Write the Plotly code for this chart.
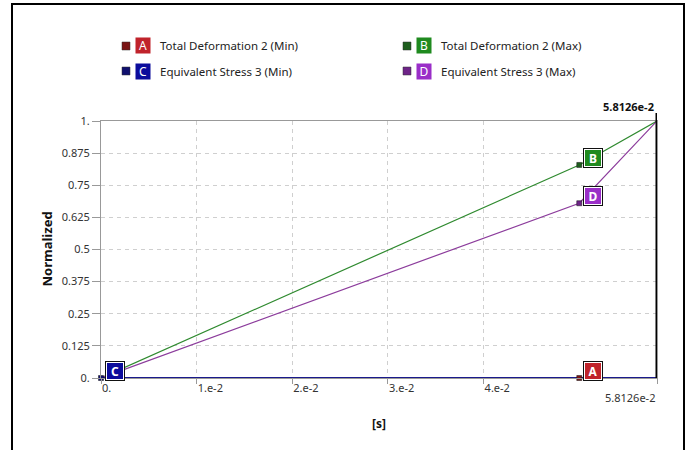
import plotly.graph_objects as go

# ---------------- data ----------------
time_s = [0.0, 0.05, 0.058126]
series_letters = ["A", "B", "C", "D"]
series_names = [
    "Total Deformation 2 (Min)",
    "Total Deformation 2 (Max)",
    "Equivalent Stress 3 (Min)",
    "Equivalent Stress 3 (Max)",
]
total_def_min = [0.0, 0.0, 0.0]
total_def_max = [0.0, 0.829, 1.0]
eq_stress_min = [0.0, 0.0, 0.0]
eq_stress_max = [0.0, 0.68, 1.0]
label_index = [1, 1, 0, 1]          # which sample carries the letter box

y_tick_vals = [0, 0.125, 0.25, 0.375, 0.5, 0.625, 0.75, 0.875, 1.0]
y_tick_text = ["0.", "0.125", "0.25", "0.375", "0.5", "0.625", "0.75", "0.875", "1."]
x_tick_vals = [0.0, 0.01, 0.02, 0.03, 0.04, 0.058126]
x_tick_text = ["0.", "1.e-2", "2.e-2", "3.e-2", "4.e-2", "5.8126e-2"]
cursor_time = 0.058126
x_title = "[s]"
y_title = "Normalized"

# ---------------- styles ----------------
W, H = 688, 450
L, R, T, B = 101, 688 - 657, 121, 450 - 378
PW, PH = W - L - R, H - T - B

def px(xp):
    return (xp - L) / PW

def py(yp):
    return (H - B - yp) / PH

values = [total_def_min, total_def_max, eq_stress_min, eq_stress_max]
line_colors = ["#9b1c1c", "#2f8a2f", "#1a1a8c", "#8c3c9c"]
box_colors = ["#c0232b", "#1f8a1f", "#0c0c9c", "#9a2ec8"]
dark_colors = ["#7a1515", "#1e5e1e", "#10106e", "#6e2488"]
FONT = "Noto Sans"

fig = go.Figure()

draw_order = [1, 3, 0, 2]
for i in draw_order:
    fig.add_trace(go.Scatter(
        x=time_s, y=values[i], mode="lines",
        line=dict(color=line_colors[i], width=1.2 if i in (1, 3) else 2),
        name=series_names[i], showlegend=False, hoverinfo="skip",
    ))

# label point markers
for i in range(4):
    k = label_index[i]
    fig.add_trace(go.Scatter(
        x=[time_s[k]], y=[values[i][k]], mode="markers",
        marker=dict(symbol="square", size=5, color=dark_colors[i],
                    line=dict(color="#111", width=0.5)),
        showlegend=False, hoverinfo="skip", cliponaxis=False,
    ))

annotations = []
shapes = []

# letter boxes on the curves
for i in range(4):
    k = label_index[i]
    annotations.append(dict(
        x=time_s[k], y=values[i][k], xref="x", yref="y",
        xanchor="left", yanchor="bottom", xshift=4, yshift=-3,
        text="", showarrow=False, width=14, height=14,
        bgcolor="#111", bordercolor="#111", borderpad=2, borderwidth=1,
    ))
    annotations.append(dict(
        x=time_s[k], y=values[i][k], xref="x", yref="y",
        xanchor="left", yanchor="bottom", xshift=5, yshift=-2,
        text="<b>%s</b>" % series_letters[i], showarrow=False,
        width=14, height=14, align="center", valign="middle",
        font=dict(family=FONT, size=12, color="white"),
        bgcolor=box_colors[i], bordercolor="white", borderwidth=1, borderpad=1,
    ))

# custom legend (two columns, two rows)
legend_slots = {0: (122, 135, 158, 46), 2: (122, 135, 158, 71),
                1: (403, 416, 439, 46), 3: (403, 416, 439, 71)}
for i in range(4):
    sq, bx, tx, yc = legend_slots[i]
    shapes.append(dict(type="rect", xref="paper", yref="paper",
                       x0=px(sq), x1=px(sq + 8), y0=py(yc + 4), y1=py(yc - 4),
                       fillcolor=dark_colors[i], line=dict(color="#333", width=0.5)))
    annotations.append(dict(
        x=px(bx), y=py(yc), xref="paper", yref="paper",
        xanchor="left", yanchor="middle", text=series_letters[i],
        showarrow=False, width=14, height=15, borderpad=0,
        font=dict(family=FONT, size=12, color="white"), bgcolor=box_colors[i],
    ))
    annotations.append(dict(
        x=px(tx), y=py(yc), xref="paper", yref="paper",
        xanchor="left", yanchor="middle", text=series_names[i],
        showarrow=False, font=dict(family=FONT, size=11.5, color="#222"),
    ))

# cursor line and its label
shapes.append(dict(type="line", xref="x", yref="paper",
                   x0=cursor_time, x1=cursor_time, y0=0, y1=py(113),
                   line=dict(color="black", width=3)))
annotations.append(dict(
    x=cursor_time, y=py(106), xref="x", yref="paper",
    xanchor="right", yanchor="middle", xshift=-1,
    text="<b>%s</b>" % x_tick_text[-1], showarrow=False,
    font=dict(family=FONT, size=11, color="#111"),
))
# last x tick label right aligned to the axis end
annotations.append(dict(
    x=x_tick_vals[-1], y=py(397), xref="x", yref="paper",
    xanchor="right", yanchor="middle", xshift=0,
    text=x_tick_text[-1], showarrow=False,
    font=dict(family=FONT, size=11, color="#333"),
))

# axis titles
annotations.append(dict(
    x=px(46), y=0.5, xref="paper", yref="paper", textangle=-90,
    xanchor="center", yanchor="middle", text="<b>%s</b>" % y_title,
    showarrow=False, font=dict(family=FONT, size=13, color="#111"),
))
annotations.append(dict(
    x=0.5, y=py(423), xref="paper", yref="paper",
    xanchor="center", yanchor="middle", text="<b>%s</b>" % x_title,
    showarrow=False, font=dict(family=FONT, size=12, color="#111"),
))

# outer frame
shapes.append(dict(type="rect", xref="paper", yref="paper",
                   x0=px(12), x1=px(684), y0=py(470), y1=py(4),
                   line=dict(color="black", width=2), fillcolor="rgba(0,0,0,0)"))

tick_text_x = x_tick_text[:-1] + [""]

fig.update_layout(
    width=W, height=H,
    margin=dict(l=L, r=R, t=T, b=B, pad=0),
    paper_bgcolor="white", plot_bgcolor="white",
    showlegend=False,
    font=dict(family=FONT, size=11, color="#333"),
    xaxis=dict(range=[time_s[0], cursor_time], tickmode="array",
               tickvals=x_tick_vals, ticktext=tick_text_x,
               ticks="outside", ticklen=5, tickcolor="#999",
               ticklabelposition="outside right",
               showgrid=True, gridcolor="#cfcfcf", griddash="4px,4px", gridwidth=1,
               showline=True, linecolor="#999", linewidth=1, mirror=True,
               zeroline=False, fixedrange=True),
    yaxis=dict(range=[0, 1], tickmode="array",
               tickvals=y_tick_vals, ticktext=y_tick_text,
               ticks="outside", ticklen=8, tickcolor="#999",
               showgrid=True, gridcolor="#cfcfcf", griddash="4px,4px", gridwidth=1,
               showline=True, linecolor="#999", linewidth=1, mirror=True,
               zeroline=False, fixedrange=True),
    annotations=annotations,
    shapes=shapes,
)

fig.write_html(
    "out.html",
    config={"displayModeBar": False, "staticPlot": True},
    post_script="document.body.style.margin='0';document.body.style.overflow='hidden';",
)
